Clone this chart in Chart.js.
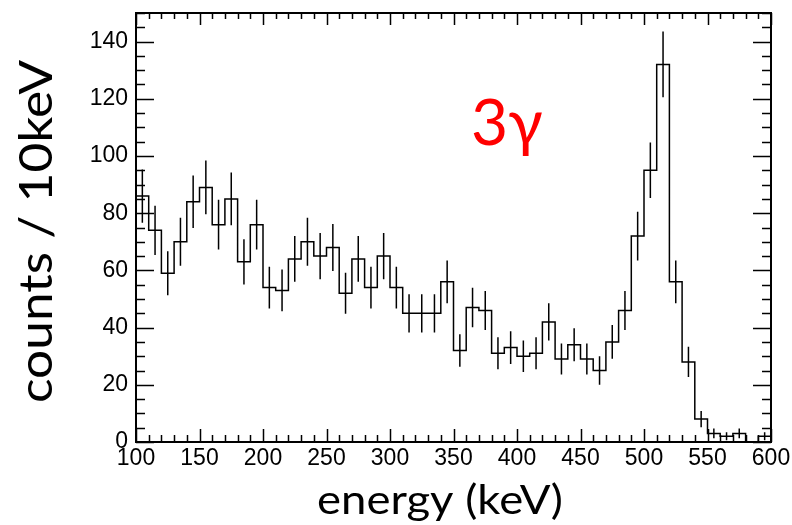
<!DOCTYPE html>
<html>
<head>
<meta charset="utf-8">
<script src="https://cdn.jsdelivr.net/npm/chart.js@4.4.1/dist/chart.umd.min.js"></script>
<style>
  html, body { margin: 0; padding: 0; background: #fff; }
  #wrap { width: 792px; height: 525px; position: relative; }
</style>
</head>
<body>
<div id="wrap"><canvas id="c" width="792" height="525"></canvas></div>
<script>
// ---- data ----
const binLow = [100,110,120,130,140,150,160,170,180,190,
                200,210,220,230,240,250,260,270,280,290,
                300,310,320,330,340,350,360,370,380,390,
                400,410,420,430,440,450,460,470,480,490,
                500,510,520,530,540,550,560,570,580,590];
const binWidth = 10;
const counts = [86,74,59,70,84,89,76,85,63,76,
                54,53,64,70,65,68,52,64,54,65,
                54,45,45,45,56,32,47,46,31,33,
                30,31,42,29,34,29,25,35,46,72,
                95,132,56,28,8,3,2,3,0,2];
const errors = [9.3,8.6,7.7,8.4,9.2,9.4,8.7,9.2,7.9,8.7,
                7.3,7.3,8.0,8.4,8.1,8.2,7.2,8.0,7.3,8.1,
                7.3,6.7,6.7,6.7,7.5,5.7,6.9,6.8,5.6,5.7,
                5.5,5.6,6.5,5.4,5.8,5.4,5.0,5.9,6.8,8.5,
                9.7,11.5,7.5,5.3,2.8,1.7,1.4,1.7,0,1.4];
const xMin = 100, xMax = 600, xMajor = 50, xMinor = 10;
const yMin = 0, yMax = 150, yMajor = 20, yMinor = 5;
const xTitle = 'energy (keV)';
const yTitle = 'counts / 10keV';
const label3g = '3γ';

// ---- build datasets from arrays ----
const histPts = binLow.map((x, i) => ({ x: x, y: counts[i] }));
histPts.push({ x: binLow[binLow.length - 1] + binWidth, y: counts[counts.length - 1] });

const errPts = [];
binLow.forEach((x, i) => {
  if (counts[i] <= 0) return;
  const xc = x + binWidth / 2;
  errPts.push({ x: xc, y: counts[i] - errors[i] });
  errPts.push({ x: xc, y: counts[i] + errors[i] });
  errPts.push({ x: xc, y: null });
});

function stretchedText(ctx, text, cx, cy, angle, font, targetLen) {
  ctx.save();
  ctx.font = font;
  const w = ctx.measureText(text).width;
  ctx.translate(cx, cy);
  ctx.rotate(angle);
  ctx.scale(targetLen / w, 1);
  ctx.textAlign = 'center';
  ctx.textBaseline = 'alphabetic';
  ctx.fillText(text, 0, 0);
  ctx.restore();
}

const frameTicks = {
  id: 'frameTicks',
  afterDatasetsDraw(chart) {
    const ctx = chart.ctx, a = chart.chartArea;
    const xs = chart.scales.x, ys = chart.scales.y;
    ctx.save();
    ctx.strokeStyle = '#000';
    ctx.lineWidth = 1.5;
    ctx.beginPath();
    for (let v = xMin; v <= xMax; v += xMinor) {
      const px = Math.round(xs.getPixelForValue(v)) + 0.5;
      const major = v % xMajor === 0;
      const Lb = major ? 13 : 7, Lt = major ? 12 : 6;
      ctx.moveTo(px, a.bottom); ctx.lineTo(px, a.bottom - Lb);
      ctx.moveTo(px, a.top); ctx.lineTo(px, a.top + Lt);
    }
    for (let v = yMin; v <= yMax; v += yMinor) {
      const py = Math.round(ys.getPixelForValue(v)) + 0.5;
      const major = v % yMajor === 0;
      const L = major ? 18 : 9;
      ctx.moveTo(a.left, py); ctx.lineTo(a.left + L, py);
      ctx.moveTo(a.right, py); ctx.lineTo(a.right - L, py);
    }
    ctx.stroke();
    ctx.lineWidth = 2;
    ctx.strokeRect(a.left, a.top, a.right - a.left, a.bottom - a.top);
    ctx.fillStyle = '#000';
    // axis titles
    stretchedText(ctx, xTitle, 440, 514, 0, '40px Lato, "Open Sans", sans-serif', 246);
    stretchedText(ctx, yTitle, 52, 231.5, -Math.PI / 2, '46px Lato, "Open Sans", sans-serif', 343);
    // 3 gamma label
    ctx.fillStyle = '#ff0000';
    ctx.font = '64px Lato, "Liberation Serif", serif';
    ctx.textAlign = 'left';
    ctx.textBaseline = 'alphabetic';
    ctx.fillText(label3g, 471, 145);
    ctx.restore();
  }
};

new Chart(document.getElementById('c'), {
  type: 'line',
  data: {
    datasets: [
      { data: histPts, stepped: true, borderColor: '#000', borderWidth: 1.5,
        pointRadius: 0, fill: false, tension: 0 },
      { data: errPts, borderColor: '#000', borderWidth: 1.5, pointRadius: 0,
        spanGaps: false, fill: false, tension: 0 }
    ]
  },
  options: {
    responsive: false,
    animation: false,
    events: [],
    layout: { padding: { top: 13, right: 21, left: 0, bottom: 0 } },
    plugins: { legend: { display: false }, tooltip: { enabled: false } },
    scales: {
      x: {
        type: 'linear', min: xMin, max: xMax,
        grid: { display: false, drawTicks: false },
        border: { display: false },
        ticks: { stepSize: xMajor, color: '#000', padding: 3,
                 font: { family: '"Liberation Sans", Arial, sans-serif', size: 23 },
                 maxRotation: 0, autoSkip: false },
        afterFit(s) { s.height = 83; s.paddingLeft = 0; s.paddingRight = 0; }
      },
      y: {
        type: 'linear', min: yMin, max: yMax,
        grid: { display: false, drawTicks: false },
        border: { display: false },
        ticks: { stepSize: yMajor, color: '#000', padding: 8,
                 font: { family: '"Liberation Sans", Arial, sans-serif', size: 23 } },
        afterBuildTicks(s) { s.ticks = s.ticks.filter(t => t.value % yMajor === 0); },
        afterFit(s) { s.width = 136; s.paddingTop = 0; s.paddingBottom = 0; }
      }
    }
  },
  plugins: [frameTicks]
});
</script>
</body>
</html>
